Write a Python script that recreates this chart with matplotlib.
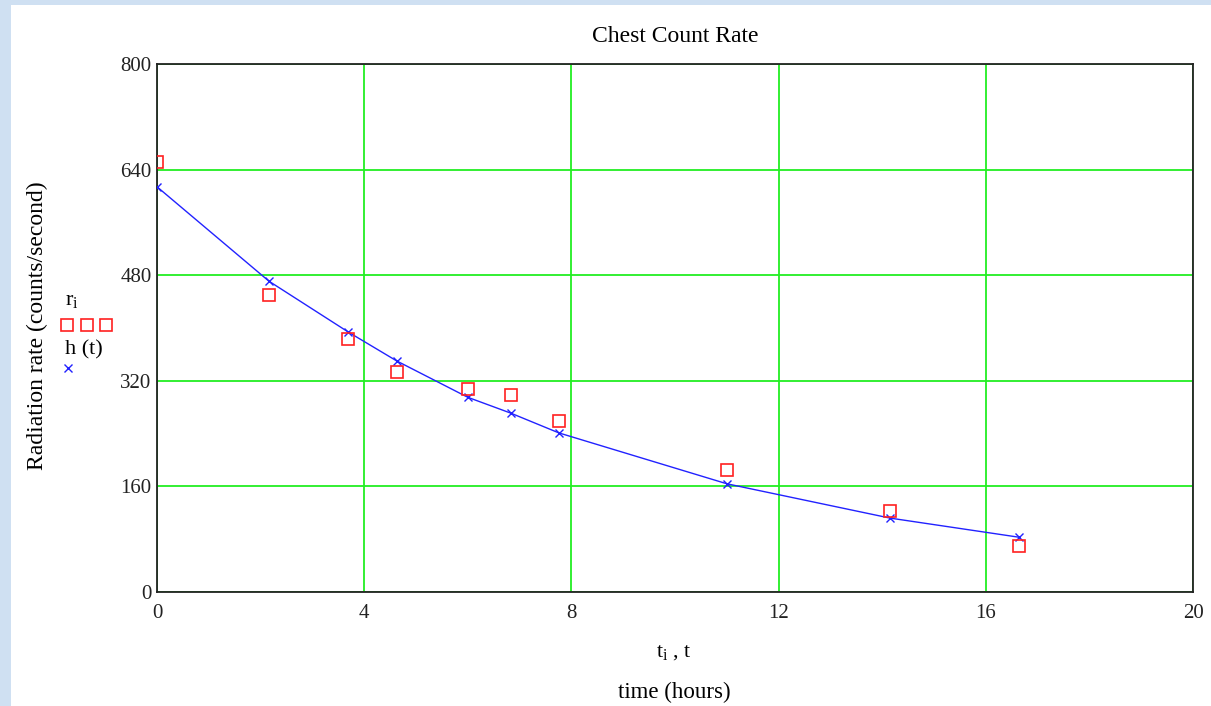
import matplotlib
matplotlib.use("Agg")
import matplotlib.pyplot as plt
from matplotlib.patches import Rectangle

# Data
t_i = [0.0, 2.16, 3.69, 4.63, 6.0, 6.83, 7.76, 11.0, 14.15, 16.64]
r_i = [652, 450, 383, 333, 307, 298, 259, 185, 123, 70]
h_t = [614, 471, 394, 350, 295, 271, 241, 164, 112, 83]

x_ticks = [0, 4, 8, 12, 16, 20]
y_ticks = [0, 160, 320, 480, 640, 800]

plt.rcParams['font.family'] = ['Liberation Serif', 'DejaVu Serif']

W, H = 1211, 706
fig = plt.figure(figsize=(W / 100, H / 100), dpi=100, facecolor='white')
# light blue page strips at left and top
fig.patches.append(Rectangle((0, 0), 11 / W, 1, transform=fig.transFigure,
                             facecolor='#cfe0f2', edgecolor='none', zorder=-5))
fig.patches.append(Rectangle((0, 1 - 5 / H), 1, 5 / H, transform=fig.transFigure,
                             facecolor='#cfe0f2', edgecolor='none', zorder=-5))

ax = fig.add_axes([157 / W, 1 - 592 / H, (1193 - 157) / W, (592 - 64) / H])
ax.set_xlim(0, 20)
ax.set_ylim(0, 800)
ax.set_xticks(x_ticks)
ax.set_yticks(y_ticks)
ax.set_xticklabels([str(v) for v in x_ticks], fontsize=15)
ax.set_yticklabels([str(v) for v in y_ticks], fontsize=15)
ax.tick_params(axis='y', length=0, pad=4, colors='#222222')
ax.tick_params(axis='x', length=0, pad=9, colors='#222222')
ax.grid(True, color='#22ee22', linewidth=1.3)
ax.set_axisbelow(True)
for s in ax.spines.values():
    s.set_linewidth(1.3)
    s.set_color('#222222')

ax.plot(t_i, h_t, color='#2222ff', linewidth=1.0, marker='x', markersize=6,
        markeredgewidth=1.0, zorder=3)
ax.plot(t_i, r_i, linestyle='none', marker='s', markersize=8, markerfacecolor='none',
        markeredgecolor='#ff2020', markeredgewidth=1.2, zorder=4)

fig.text(675 / W, 1 - 36 / H, 'Chest Count Rate', ha='center', va='center', fontsize=17)
fig.text(37 / W, 1 - 326 / H, 'Radiation rate (counts/second)', ha='center', va='center',
         rotation=90, fontsize=17)
fig.text(674 / W, 1 - 652 / H, r'$\mathregular{t_i}$ , t', ha='center', va='center', fontsize=16)
fig.text(674 / W, 1 - 692 / H, 'time (hours)', ha='center', va='center', fontsize=16.5)

# legend-like labels at left
fig.text(72 / W, 1 - 301 / H, r'$\mathregular{r_i}$', ha='center', va='center', fontsize=16)
fig.text(84 / W, 1 - 350 / H, 'h (t)', ha='center', va='center', fontsize=16)
lax = fig.add_axes([0, 0, 1, 1], facecolor='none')
lax.set_xlim(0, W)
lax.set_ylim(H, 0)
lax.axis('off')
lax.plot([67, 87, 106], [325, 325, 325], linestyle='none', marker='s', markersize=8,
         markerfacecolor='none', markeredgecolor='#ff2020', markeredgewidth=1.2)
lax.plot([68], [368], linestyle='none', marker='x', markersize=6, color='#2222ff',
         markeredgewidth=1.0)

fig.savefig('out.png', dpi=100, facecolor=fig.get_facecolor())
